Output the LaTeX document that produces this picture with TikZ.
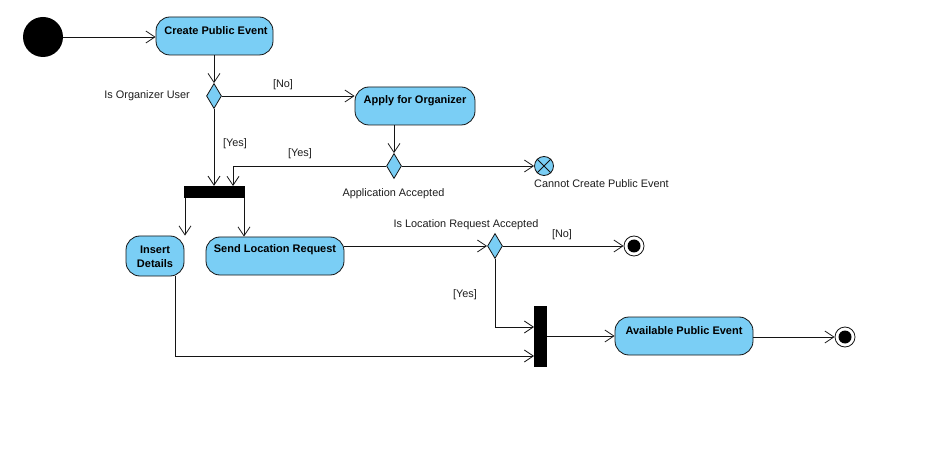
\documentclass[tikz,border=0pt]{standalone}
\usepackage{fontspec}
\setmainfont{Liberation Sans}
\usetikzlibrary{arrows.meta,shapes.geometric,calc}
\definecolor{actblue}{RGB}{122,206,245}
\definecolor{edge}{RGB}{20,20,20}
\definecolor{txt}{RGB}{30,30,30}
\tikzset{
  act/.style={draw=edge, line width=0.8pt, fill=actblue, rounded corners=14pt, inner sep=0pt},
  acttext/.style={font=\fontsize{11}{13.5}\selectfont\bfseries, text=black, align=center, inner sep=0pt},
  lab/.style={font=\fontsize{10.9}{13}\selectfont, text=txt, inner sep=0pt},
  dec/.style={diamond, draw=edge, line width=0.8pt, fill=actblue, minimum width=15pt, minimum height=25pt, inner sep=0pt},
  bar/.style={rectangle, fill=black, draw=none, inner sep=0pt},
  flow/.style={draw=edge, line width=0.8pt},
  arr/.style={flow, -{Straight Barb[length=9pt,width=12pt,line width=0.8pt]}},
  finalout/.style={circle, draw=edge, line width=0.8pt, fill=white, minimum size=20pt, inner sep=0pt},
  finalin/.style={circle, fill=black, minimum size=13pt, inner sep=0pt},
}
\begin{document}
\begin{tikzpicture}[x=1pt,y=-1pt]
\useasboundingbox (0,0) rectangle (931,454);
\fill[white] (0,0) rectangle (931,454);

% initial node
\node[circle, fill=black, minimum size=40pt, inner sep=0pt] (init) at (43,37) {};

% actions
\node[act, minimum width=117pt, minimum height=38pt] (create) at (214.5,36) {};
\node[acttext] (createT) at (216,31) {Create Public Event};

\node[act, minimum width=120pt, minimum height=38pt] (apply) at (415,106) {};
\node[acttext] (applyT) at (415,101) {Apply for Organizer};

\node[act, minimum width=58pt, minimum height=40pt] (insert) at (155,256) {};
\node[acttext] (insertT) at (155,257) {Insert\\[1pt]Details};

\node[act, minimum width=138pt, minimum height=38pt] (send) at (275,256) {};
\node[acttext] (sendT) at (275,250) {Send Location Request};

\node[act, minimum width=138pt, minimum height=38pt] (avail) at (684,336) {};
\node[acttext] (availT) at (684,331) {Available Public Event};

% decisions
\node[dec] (d1) at (214,96) {};
\node[dec] (d2) at (394,166) {};
\node[dec] (d3) at (495,246) {};

% fork / join bars
\node[bar, minimum width=61pt, minimum height=12pt] (fork) at (214.5,192) {};
\node[bar, minimum width=13pt, minimum height=61pt] (join) at (540.5,336.5) {};

% flow final
\node[circle, draw=edge, line width=0.8pt, fill=actblue, minimum size=19pt, inner sep=0pt] (cannot) at (544,166) {};
\draw[flow] (cannot.north east) -- (cannot.south west);
\draw[flow] (cannot.north west) -- (cannot.south east);

% activity finals
\node[finalout] (final1) at (634,246) {};
\node[finalin] (final1in) at (634,246) {};
\node[finalout] (final2) at (845,337) {};
\node[finalin] (final2in) at (845,337) {};

% helper coordinates
\coordinate (forkin2) at (233,186);
\coordinate (forkout1) at (185,198);
\coordinate (forkout2) at (244,198);
\coordinate (insertout) at (175,276);
\coordinate (joinin1) at (534,327);
\coordinate (joinin2) at (534,356);

% connectors
\draw[arr] (init.east) -- (init.east -| create.west);
\draw[arr] (d1.north |- create.south) -- (d1.north);
\draw[arr] (d1.east) -- (d1.east -| apply.west);
\draw[arr] (d2.north |- apply.south) -- (d2.north);
\draw[arr] (d2.west) -| (forkin2);
\draw[arr] (d1.south) -- (d1.south |- fork.north);
\draw[arr] (d2.east) -- (cannot.west);
\draw[arr] (forkout1) -- (forkout1 |- insert.north);
\draw[arr] (forkout2) -- (forkout2 |- send.north);
\draw[arr] (d3.west -| send.east) -- (d3.west);
\draw[arr] (d3.east) -- (final1.west);
\draw[arr] (d3.south) |- (joinin1);
\draw[arr] (insertout) |- (joinin2);
\draw[arr] (join.east |- avail.west) -- (avail.west);
\draw[arr] (avail.east |- final2.west) -- (final2.west);

% labels
\node[lab, anchor=east] (l1) at (190,96) {Is Organizer User};
\node[lab] (l2) at (283,85) {[No]};
\node[lab] (l3) at (235,144) {[Yes]};
\node[lab] (l4) at (300,154) {[Yes]};
\node[lab] (l5) at (393.5,194) {Application Accepted};
\node[lab, anchor=west] (l6) at (534,184) {Cannot Create Public Event};
\node[lab] (l7) at (466,225) {Is Location Request Accepted};
\node[lab] (l8) at (562,235) {[No]};
\node[lab] (l9) at (465,295) {[Yes]};
\end{tikzpicture}
\end{document}
